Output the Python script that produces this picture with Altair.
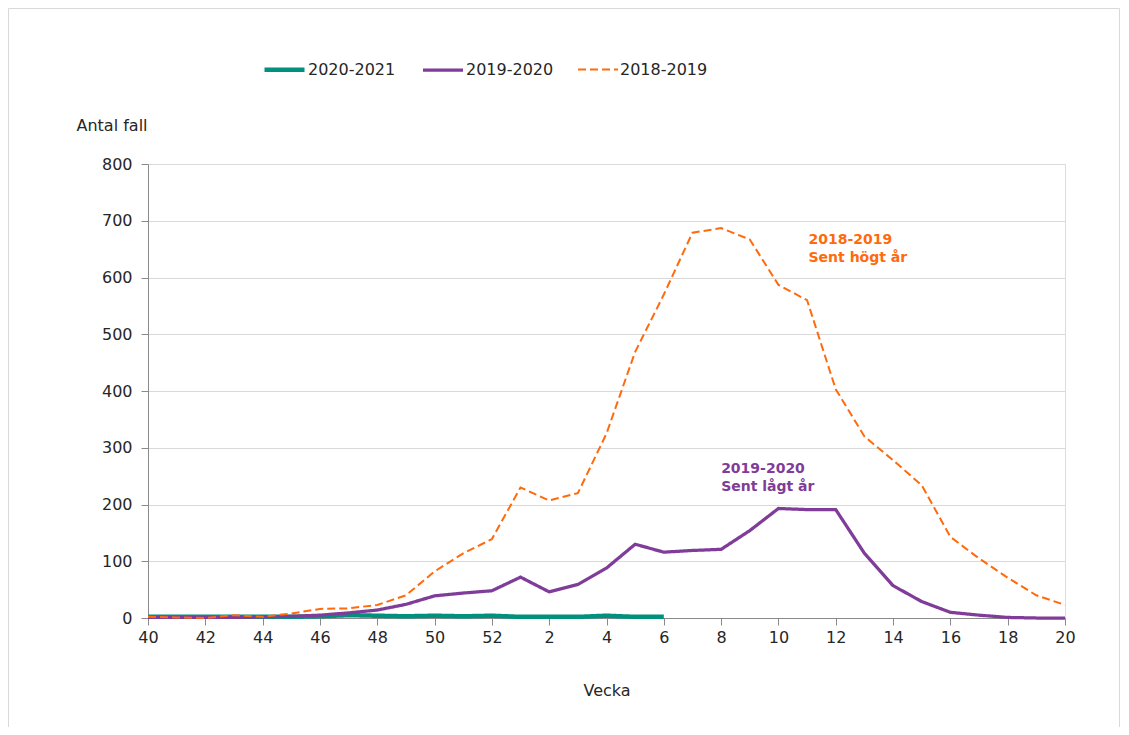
import altair as alt
import pandas as pd

weeks = [40, 41, 42, 43, 44, 45, 46, 47, 48, 49, 50, 51, 52,
         1, 2, 3, 4, 5, 6, 7, 8, 9, 10, 11, 12, 13, 14, 15, 16, 17, 18, 19, 20]

season_names = ["2020-2021", "2019-2020", "2018-2019"]
season_colors = ["#00917e", "#7f3c98", "#ff6a0d"]

s2020_2021 = [2, 2, 2, 2, 2, 2, 3, 5, 4, 3, 4, 3, 4, 2, 2, 2, 4, 2, 2]
s2019_2020 = [1, 1, 1, 1, 2, 3, 5, 9, 14, 24, 39, 44, 48, 72, 46, 59, 88, 130, 116,
              119, 121, 154, 193, 191, 191, 114, 57, 29, 10, 5, 1, 0, 0]
s2018_2019 = [2, 1, 0, 5, 2, 8, 16, 17, 23, 40, 82, 114, 139, 230, 207, 220, 325, 469, 570,
              679, 687, 667, 587, 560, 403, 320, 278, 234, 143, 105, 71, 40, 23]

ann_text = ["2018-2019", "Sent högt år", "2019-2020", "Sent lågt år"]
ann_season = ["2018-2019", "2018-2019", "2019-2020", "2019-2020"]
ann_week_idx = [23.05, 23.05, 20.0, 20.0]
ann_value = [666, 635, 262, 231]

tick_labels = [str(w) if i % 2 == 0 else "" for i, w in enumerate(weeks)]
label_expr = "[" + ",".join("'" + t + "'" for t in tick_labels) + "][datum.value]"

rows = []
for name, series in zip(season_names, [s2020_2021, s2019_2020, s2018_2019]):
    for i, v in enumerate(series):
        rows.append({"idx": i, "week": weeks[i], "season": name, "value": v})
df = pd.DataFrame(rows)

ann_df = pd.DataFrame({"text": ann_text, "season": ann_season,
                       "idx": ann_week_idx, "value": ann_value})

FONT = "DejaVu Sans"
W, H = 917, 454

x_enc = alt.X(
    "idx:Q",
    scale=alt.Scale(domain=[0, len(weeks) - 1], nice=False, zero=False),
    axis=alt.Axis(
        values=list(range(len(weeks))),
        labelExpr=label_expr,
        labelOverlap=False,
        labelFlush=False,
        grid=False,
        tickSize=7,
        tickColor="#8a8a8a",
        domainColor="#8a8a8a",
        labelPadding=4,
        labelFont=FONT,
        labelFontSize=16,
        labelColor="#262626",
        title="Vecka",
        titleFont=FONT,
        titleFontSize=16,
        titleFontWeight="normal",
        titleColor="#262626",
        titleY=72,
        titleBaseline="middle",
    ),
)

y_enc = alt.Y(
    "value:Q",
    scale=alt.Scale(domain=[0, 800], nice=False),
    axis=alt.Axis(
        values=list(range(0, 801, 100)),
        grid=True,
        gridColor="#d9d9d9",
        tickSize=7,
        tickColor="#8a8a8a",
        domainColor="#8a8a8a",
        labelPadding=9,
        labelFlush=False,
        labelFont=FONT,
        labelFontSize=16,
        labelColor="#262626",
        title="Antal fall",
        titleFont=FONT,
        titleFontSize=16,
        titleFontWeight="normal",
        titleColor="#262626",
        titleAngle=0,
        titleAlign="left",
        titleBaseline="middle",
        titleX=-72,
        titleY=-39,
    ),
)

legend = alt.Legend(
    title=None,
    orient="none",
    direction="horizontal",
    legendX=114,
    legendY=-117,
    symbolType="stroke",
    symbolSize=1600,
    labelFont=FONT,
    labelFontSize=16,
    labelColor="#262626",
    labelOffset=1,
    columnPadding=20,
)

lines = alt.Chart(df).mark_line(strokeCap="butt").encode(
    x=x_enc,
    y=y_enc,
    color=alt.Color("season:N", scale=alt.Scale(domain=season_names, range=season_colors), legend=legend),
    strokeDash=alt.StrokeDash("season:N", scale=alt.Scale(domain=season_names, range=[[1, 0], [1, 0], [8, 4]]), legend=legend),
    strokeWidth=alt.StrokeWidth("season:N", scale=alt.Scale(domain=season_names, range=[4.5, 2.0, 2.75]), legend=legend),
    detail="season:N",
)

ann = alt.Chart(ann_df).mark_text(
    align="left", baseline="middle", font=FONT, fontSize=14, fontWeight="bold"
).encode(
    x="idx:Q",
    y="value:Q",
    text="text:N",
    color=alt.Color("season:N", scale=alt.Scale(domain=season_names, range=season_colors), legend=None),
)

frame = alt.Chart(alt.Data(values=[{"a": 1}])).mark_rect(
    filled=False, stroke="#d9d9d9", strokeWidth=1
).encode(
    x=alt.value(-139.5), x2=alt.value(971.5), y=alt.value(-155.5), y2=alt.value(620)
)

chart = alt.layer(frame, lines, ann).resolve_scale(color="shared").properties(
    width=W,
    height=H,
    autosize=alt.AutoSizeParams(type="none"),
    padding={"left": 140, "top": 156, "right": 56, "bottom": 109},
).configure_view(stroke=None).configure(background="white")

chart.save("out.html", embed_options={"renderer": "svg", "actions": False})
